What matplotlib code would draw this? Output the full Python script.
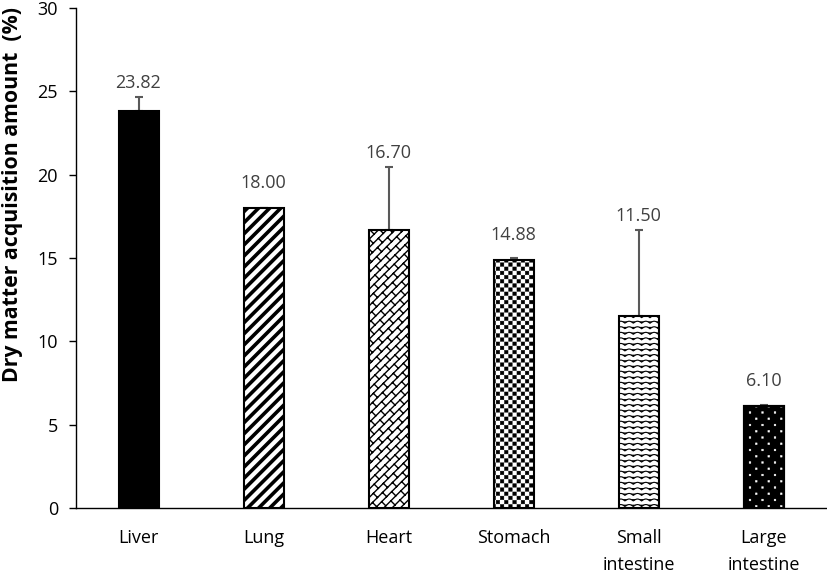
import matplotlib
matplotlib.use("Agg")
import warnings
import numpy as np
import matplotlib.pyplot as plt
from matplotlib import hatch as mhatch
from matplotlib.path import Path

warnings.filterwarnings("ignore")

categories = ["Liver", "Lung", "Heart", "Stomach", "Small\nintestine", "Large\nintestine"]
values = [23.82, 18.00, 16.70, 14.88, 11.50, 6.10]
errors = [0.84, 0.0, 3.76, 0.10, 5.18, 0.10]
labels = ["23.82", "18.00", "16.70", "14.88", "11.50", "6.10"]
yticks = [0, 5, 10, 15, 20, 25, 30]


# ---------- custom hatch patterns (styles only) ----------
def _segments_to_vc(segs):
    verts, codes = [], []
    for seg in segs:
        verts.extend(seg)
        codes.extend([Path.MOVETO] + [Path.LINETO] * (len(seg) - 1))
    return np.array(verts, float), np.array(codes, Path.code_type)


def _polys_to_vc(polys):
    verts, codes = [], []
    for poly in polys:
        verts.extend(poly + [poly[0]])
        codes.extend([Path.MOVETO] + [Path.LINETO] * (len(poly) - 1) + [Path.CLOSEPOLY])
    return np.array(verts, float), np.array(codes, Path.code_type)


class _Custom(mhatch.HatchPatternBase):
    char = None

    def __init__(self, hatch, density):
        if self.char and self.char in hatch:
            self._v, self._c = self.build()
            self.num_vertices = len(self._v)
        else:
            self.num_vertices = 0

    def set_vertices_and_codes(self, vertices, codes):
        vertices[:] = self._v
        codes[:] = self._c


class CheckerHatch(_Custom):
    char = "c"

    def build(self):
        n = 24
        a = 1.0 / n
        s = a * 0.86
        polys = []
        for i in range(n):
            for j in range(n):
                if (i + j) % 2 == 0:
                    x0 = i * a + (a - s) / 2
                    y0 = j * a + (a - s) / 2
                    polys.append([(x0, y0), (x0 + s, y0), (x0 + s, y0 + s), (x0, y0 + s)])
        return _polys_to_vc(polys)


class WaveHatch(_Custom):
    char = "w"

    def build(self):
        rows = 18
        periods = 12
        xs = np.linspace(-0.05, 1.05, 12 * 12 + 1)
        segs = []
        for r in range(-1, rows + 2):
            y0 = r / rows
            ys = y0 + 0.02 * np.abs(np.sin(np.pi * periods * xs)) - 0.01
            segs.append(list(zip(xs, ys)))
        return _segments_to_vc(segs)


class BrickHatch(_Custom):
    char = "b"

    def build(self):
        m = 12
        L = 1.0 / 5
        segs = []

        def xy(u, v):
            return ((u + v) / 2.0, (v - u) / 2.0)

        for k in range(-m - 1, m + 1):
            u = k / m
            segs.append([xy(u, -1.2), xy(u, 3.2)])
            u2 = (k + 1) / m
            off = (k % 2) * L / 2
            for j in range(-8, 20):
                v = off + j * L
                segs.append([xy(u, v), xy(u2, v)])
        return _segments_to_vc(segs)


class DotHatch(_Custom):
    char = "d"

    def build(self):
        nx, ny = 8, 16
        s = 0.017
        polys = []
        for r in range(ny + 1):
            y = r / ny
            shift = (r % 2) * 0.5 / nx
            for c in range(-1, nx + 1):
                x = c / nx + shift
                polys.append([(x - s / 2, y - s / 2), (x + s / 2, y - s / 2),
                              (x + s / 2, y + s / 2), (x - s / 2, y + s / 2)])
        return _polys_to_vc(polys)


for cls in (CheckerHatch, WaveHatch, BrickHatch, DotHatch):
    mhatch._hatch_types.append(cls)

# ---------- figure ----------
plt.rcParams['font.family'] = ['Open Sans', 'DejaVu Sans']

fig = plt.figure(figsize=(8.27, 5.77), dpi=100)
ax = fig.add_axes([76 / 827, 1 - 508 / 577, 750 / 827, 500 / 577])

x = np.arange(len(categories))
faces = ["black", "white", "white", "white", "white", "black"]
hatches = [None, "///", "b", "c", "w", None]
hatch_lw = [1.0, 2.6, 1.0, 0.3, 0.8, 1.0]


def add_bar(i, height, face, edge, lw, hatch, hlw, z):
    with plt.rc_context({'hatch.linewidth': hlw}):
        bc = ax.bar(i, height, width=0.32, color=face, edgecolor=edge,
                    linewidth=lw, hatch=hatch, zorder=z)
        for p in bc.patches:
            if hasattr(p, "set_hatch_linewidth"):
                p.set_hatch_linewidth(hlw)
    return bc


for i in x:
    add_bar(i, values[i], faces[i], "black", 1.5, hatches[i], hatch_lw[i], 2)
# white dot overlay for large intestine
add_bar(x[5], values[5], "none", "white", 0, "d", 0.3, 3)
add_bar(x[5], values[5], "none", "black", 1.5, None, 1.0, 4)

ax.errorbar(x, values, yerr=[[0] * len(errors), errors], fmt="none",
            ecolor="#595959", elinewidth=1.5, capsize=3, capthick=1.5, zorder=1)

for i in x:
    ly = max(values[i] + 0.95, values[i] + errors[i] + 0.3)
    ax.text(i, ly, labels[i], ha="center", va="bottom",
            fontsize=13, color="#404040")

ax.set_xlim(-0.5, 5.5)
ax.set_ylim(0, 30)
ax.set_yticks(yticks)
ax.set_xticks(x)
ax.set_xticklabels(categories, fontsize=13, linespacing=1.65, va="top")
ax.tick_params(axis="x", length=0, pad=15)
ax.tick_params(axis="y", labelsize=13, length=5, width=1, direction="out", pad=8)
ax.spines["top"].set_visible(False)
ax.spines["right"].set_visible(False)
ax.spines["left"].set_linewidth(1)
ax.spines["bottom"].set_linewidth(1)
ax.set_ylabel("Dry matter acquisition amount  (%)", fontsize=15.3,
              fontweight="bold")
ax.yaxis.set_label_coords(-0.071, 0.628)

fig.savefig("out.png", dpi=100)
